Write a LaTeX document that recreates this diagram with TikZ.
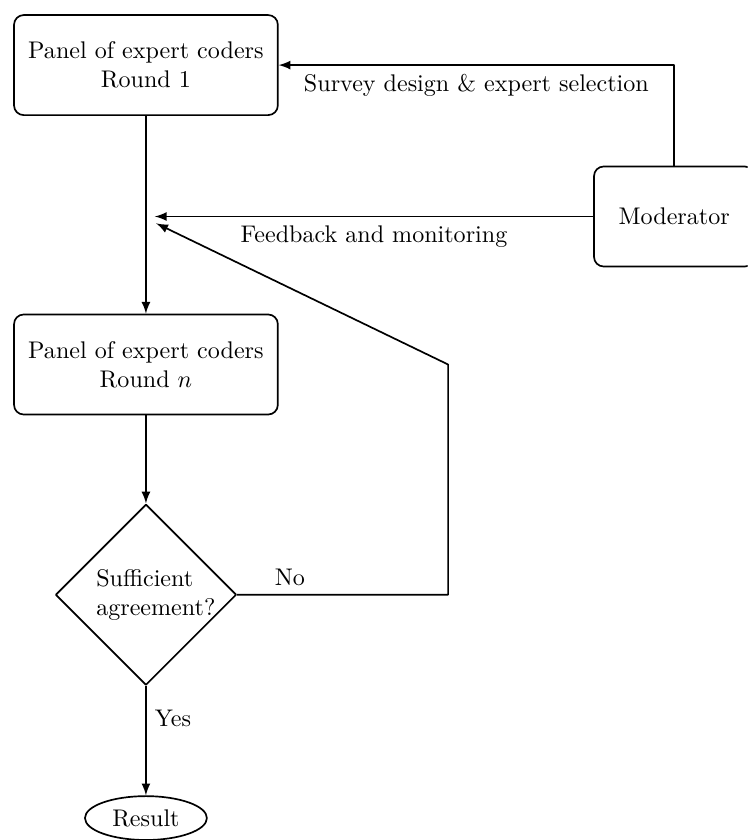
\documentclass[tikz,border=0pt]{standalone}
\usetikzlibrary{shapes.geometric}
\begin{document}
\begin{tikzpicture}[scale=1, line join=round, >=latex, line width=0.7pt,
  panel/.style={draw, rounded corners=4pt, minimum width=3.85cm, minimum height=1.46cm, align=center},
  decision/.style={draw, diamond, aspect=1, minimum size=2.64cm, inner sep=1pt, text width=1.45cm, align=left},
  stopnode/.style={draw, ellipse, minimum width=1.78cm, minimum height=0.64cm, inner sep=1pt}]
\def\w{10.91} \def\h{12.26}
\useasboundingbox (0,0) rectangle (\w,\h);
\clip (0,0) rectangle (\w,\h);
% nodes
\node[panel] (r1) at (2.13,11.31) {Panel of expert coders\\Round 1};
\node[panel] (rn) at (2.13,6.94) {Panel of expert coders\\Round $n$};
\node[decision] (ok) at (2.13,3.58) {Sufficient\\agreement?};
\node[stopnode] (res) at (2.13,0.32) {Result};
\node[panel, minimum width=2.34cm] (mod) at (9.84,9.10) {Moderator};
\coordinate (fb) at (2.26,9.10);
\coordinate (fb2) at (2.28,9.00);
\coordinate (loop) at (6.54,6.94);
% connectors
\draw[->] (r1) -- (rn);
\draw[->] (rn) -- (ok);
\draw[->] (ok) -- node[right, pos=0.3]{Yes} (res);
\draw[->] (ok.east) -- node[above, pos=0.25]{No} (ok.east -| loop) -- (loop) -- (fb2);
\draw[->] (mod.north) |- node[pos=0.75, below]{Survey design \& expert selection} (r1.east);
\draw[->] (mod.west) -- node[below]{Feedback and monitoring} (fb);
\end{tikzpicture}
\end{document}
